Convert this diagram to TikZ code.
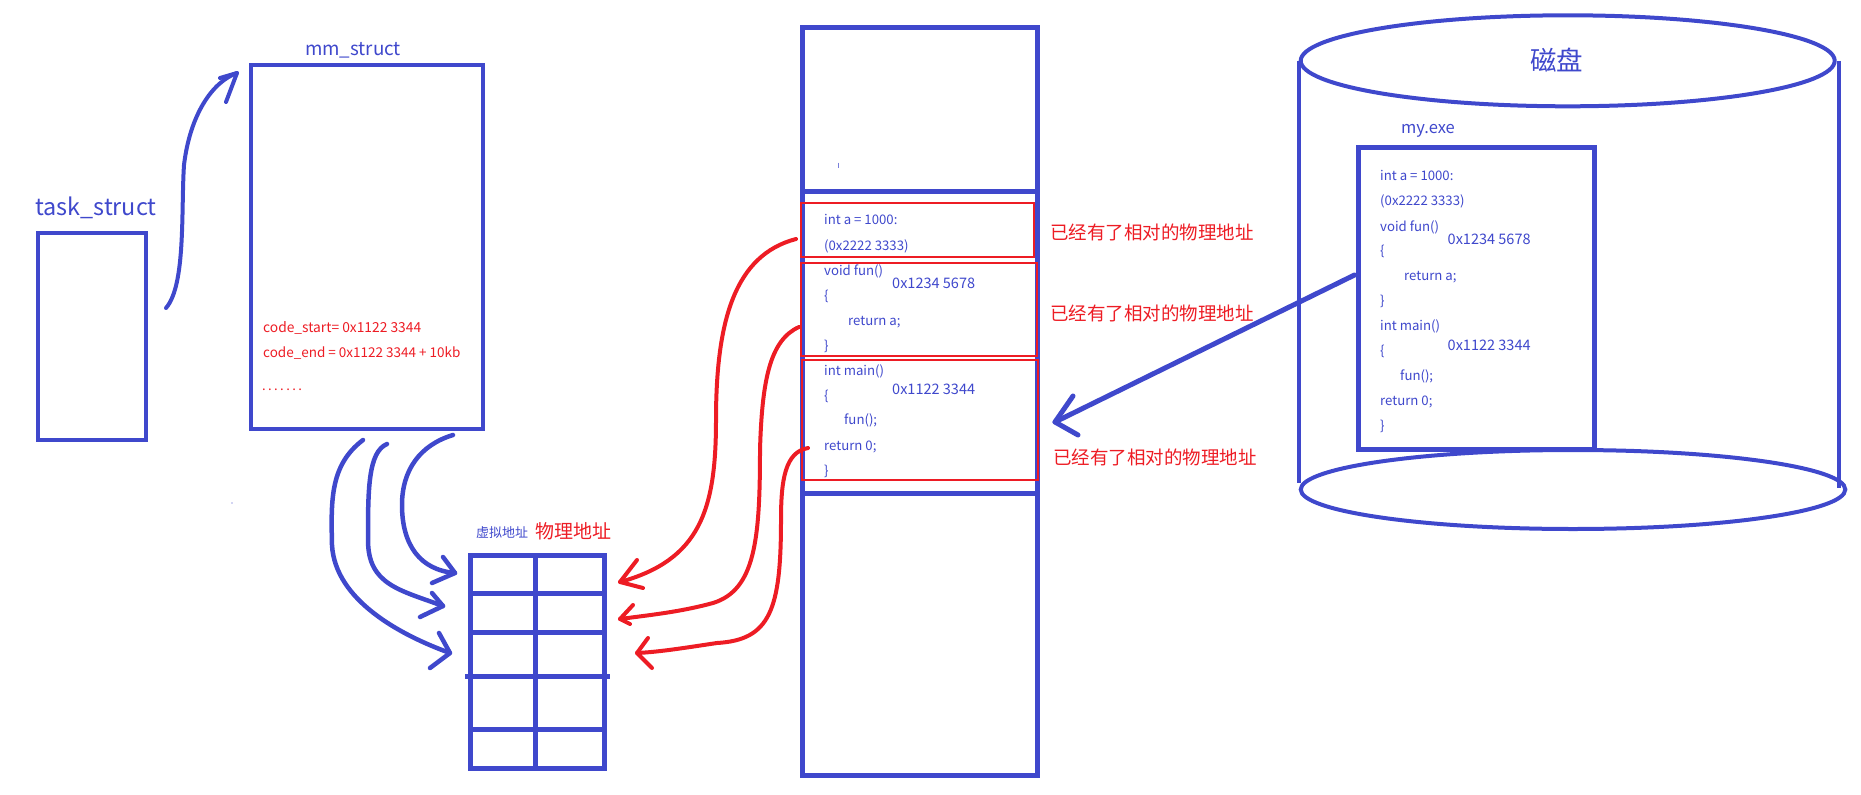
\documentclass[tikz,border=0pt]{standalone}
\usepackage{fontspec}
\setmainfont{Noto Sans CJK SC}
\usetikzlibrary{shapes.geometric}
\definecolor{pblue}{RGB}{63,72,204}
\definecolor{pred}{RGB}{237,28,36}
\begin{document}
\begin{tikzpicture}[x=1pt,y=-1pt,
  bbox/.style={draw=pblue,line width=#1,minimum width=0pt,minimum height=0pt,inner sep=0pt},
  rbox/.style={draw=pred,line width=1.5,inner sep=0pt},
  code/.style={text=pblue,anchor=west,inner sep=0pt,font=\fontsize{13.2}{15}\selectfont,text height=8.5pt,text depth=2.5pt},
  hex/.style={code,font=\fontsize{14.5}{16}\selectfont},
  rlabel/.style={text=pred,anchor=west,inner sep=0pt,font=\fontsize{18.5}{20}\selectfont},
  barrow/.style={draw=pblue,line width=4.5,line cap=round,line join=round},
  rarrow/.style={draw=pred,line width=4,line cap=round,line join=round},
  grid/.style={draw=pblue,line width=5}
]
\useasboundingbox (0,0) rectangle (1861,795);

% task_struct
\node[bbox=4,minimum width=108.5,minimum height=207] (task) at (91.75,336.5) {};
\node[text=pblue,anchor=base west,inner sep=0pt,font=\fontsize{23.4}{26}\selectfont] (tasklbl) at (35,215) {task\_struct};

% mm_struct
\node[bbox=4,minimum width=232,minimum height=364] (mm) at (367,247) {};
\node[text=pblue,anchor=base,inner sep=0pt,font=\fontsize{18.8}{21}\selectfont] (mmlbl) at (353,55) {mm\_struct};
\node[text=pred,anchor=base west,inner sep=0pt,font=\fontsize{13.8}{15}\selectfont] (cs) at (263,332) {code\_start= 0x1122 3344};
\node[text=pred,anchor=base west,inner sep=0pt,font=\fontsize{13.5}{15}\selectfont] (ce) at (263,357) {code\_end = 0x1122 3344 + 10kb};
\node[text=pred,anchor=base west,inner sep=0pt,font=\fontsize{13}{15}\selectfont] (dots) at (262,390) {.\kern2.4pt.\kern2.4pt.\kern2.4pt.\kern2.4pt.\kern2.4pt.\kern2.4pt.};

% arrow task -> mm
\coordinate (t1) at (166,308);
\coordinate (t2) at (237,73);
\draw[barrow,line width=4] (t1) .. controls (186,285) and (181,210) .. (184,165) .. controls (190,115) and (212,82) .. (t2);
\draw[barrow,line width=4] ([shift={(-17,5)}]t2) -- (t2) -- ([shift={(-11,29)}]t2);

% speck
\fill[pblue] (232,503) circle (0.7);

% memory column
\node[bbox=5,minimum width=235,minimum height=748] (mem) at (920,401.5) {};
\draw[pblue,line width=5] (mem.west |- 0,191.5) -- (mem.east |- 0,191.5);
\draw[pblue,line width=5] (mem.west |- 0,493) -- (mem.east |- 0,493);
\draw[pblue!70,line width=0.9] (838,162.5) -- (838,167.5);

\node[rbox,minimum width=233,minimum height=54] (r1) at (917.5,230) {};
\node[rbox,minimum width=236,minimum height=93] (r2) at (919,309.5) {};
\node[rbox,minimum width=236,minimum height=120] (r3) at (920,420) {};

\node[code] (m1) at (824,221) {int a = 1000:};
\node[code] (m2) at (824,247) {(0x2222 3333)};
\node[code] (m3) at (824,272) {void fun()};
\node[hex] (m4) at (892,285) {0x1234 5678};
\node[code] (m5) at (824,297) {\{};
\node[code] (m6) at (848,322) {return a;};
\node[code] (m7) at (824,347) {\}};
\node[code] (m8) at (824,372) {int main()};
\node[hex] (m9) at (892,391) {0x1122 3344};
\node[code] (m10) at (824,397) {\{};
\node[code] (m11) at (844,421) {fun();};
\node[code] (m12) at (824,447) {return 0;};
\node[code] (m13) at (824,472) {\}};

\node[rlabel] (l1) at (1050,232) {已经有了相对的物理地址};
\node[rlabel] (l2) at (1050,313) {已经有了相对的物理地址};
\node[rlabel] (l3) at (1053,457) {已经有了相对的物理地址};

% disk
\node[draw=pblue,line width=4,ellipse,minimum width=534,minimum height=91,inner sep=0pt] (disktop) at (1567.7,60.8) {};
\node[draw=pblue,line width=4,ellipse,minimum width=544.6,minimum height=79,inner sep=0pt] (diskbot) at (1573,489.5) {};
\draw[pblue,line width=4] (disktop.west) -- (disktop.west |- 0,483);
\draw[pblue,line width=4] ([xshift=2]disktop.east) -- ([xshift=2]disktop.east |- 0,488);
\node[text=pblue,inner sep=0pt,font=\fontsize{26.5}{28}\selectfont] (disklbl) at (1556.5,60) {磁盘};

\node[bbox=5,minimum width=235.5,minimum height=302,fill=white] (exe) at (1476.25,298.5) {};
\node[text=pblue,inner sep=0pt,font=\fontsize{16.5}{18}\selectfont] (exelbl) at (1428,131) {my.exe};

\node[code] (e1) at (1380,177) {int a = 1000:};
\node[code] (e2) at (1380,202) {(0x2222 3333)};
\node[code] (e3) at (1380,228) {void fun()};
\node[hex] (e4) at (1447.5,241) {0x1234 5678};
\node[code] (e5) at (1380,252) {\{};
\node[code] (e6) at (1404,277) {return a;};
\node[code] (e7) at (1380,302) {\}};
\node[code] (e8) at (1380,327) {int main()};
\node[hex] (e9) at (1447.5,347) {0x1122 3344};
\node[code] (e10) at (1380,352) {\{};
\node[code] (e11) at (1400,377) {fun();};
\node[code] (e12) at (1380,402) {return 0;};
\node[code] (e13) at (1380,427) {\}};

% arrow exe -> memory
\coordinate (x1) at (1354.5,275);
\coordinate (x2) at (1055,422);
\draw[barrow,line width=5] (x1) -- (x2);
\draw[barrow,line width=5] ([shift={(18,-26)}]x2) -- (x2) -- ([shift={(23,13)}]x2);

% page table
\node[bbox=5,minimum width=134,minimum height=213] (pt) at (537.5,662) {};
\draw[grid] (535,553) -- (535,771);
\draw[grid] (pt.west |- 0,593) -- (pt.east |- 0,593);
\draw[grid] (pt.west |- 0,632) -- (pt.east |- 0,632);
\draw[grid] ([xshift=-3]pt.west |- 0,676) -- ([xshift=3]pt.east |- 0,676);
\draw[grid] (pt.west |- 0,729) -- (pt.east |- 0,729);
\node[text=pblue,inner sep=0pt,font=\fontsize{13}{15}\selectfont] (vlbl) at (502,533) {虚拟地址};
\node[text=pred,inner sep=0pt,font=\fontsize{19}{21}\selectfont] (plbl) at (573,531) {物理地址};

% blue arrows mm -> table
\coordinate (a0) at (453,435);
\coordinate (a1) at (455,573);
\draw[barrow] (a0) .. controls (420,445) and (402,470) .. (402,505) .. controls (402,545) and (420,570) .. (a1);
\draw[barrow] ([shift={(-12,-16)}]a1) -- (a1) -- ([shift={(-23,10)}]a1);

\coordinate (b0) at (387,444);
\coordinate (b1) at (443,606);
\draw[barrow] (b0) .. controls (368,452) and (368,490) .. (368,540) .. controls (368,585) and (400,590) .. (b1);
\draw[barrow] ([shift={(-11,-13)}]b1) -- (b1) -- ([shift={(-23,11)}]b1);

\coordinate (c0) at (363,440);
\coordinate (c1) at (450,653);
\draw[barrow] (c0) .. controls (330,465) and (331,500) .. (332,545) .. controls (335,600) and (400,635) .. (c1);
\draw[barrow] ([shift={(-11,-20)}]c1) -- (c1) -- ([shift={(-20,15)}]c1);

% red arrows memory -> table
\coordinate (p0) at (796,239);
\coordinate (p1) at (620,582);
\draw[rarrow] (p0) .. controls (735,255) and (716,320) .. (716,420) .. controls (716,510) and (700,560) .. (p1);
\draw[rarrow] ([shift={(17,-22)}]p1) -- (p1) -- ([shift={(23,6)}]p1);

\coordinate (q0) at (799,327);
\coordinate (q1) at (620,619);
\draw[rarrow] (q0) .. controls (770,340) and (762,380) .. (760,450) .. controls (760,540) and (755,590) .. (713,603) .. controls (680,612) and (650,615) .. (q1);
\draw[rarrow] ([shift={(13,-14)}]q1) -- (q1) -- ([shift={(10,5)}]q1);

\coordinate (s0) at (808,448);
\coordinate (s1) at (637,653);
\draw[rarrow] (s0) .. controls (785,452) and (781,480) .. (781,520) .. controls (781,610) and (770,640) .. (717,643) .. controls (690,647) and (660,652) .. (s1);
\draw[rarrow] ([shift={(11,-15)}]s1) -- (s1) -- ([shift={(15,15)}]s1);
\end{tikzpicture}
\end{document}
